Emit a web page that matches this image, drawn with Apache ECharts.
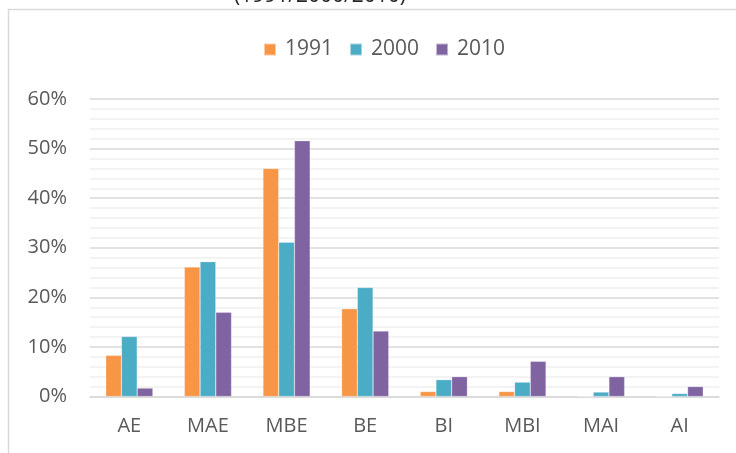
<!DOCTYPE html>
<html>
<head>
<meta charset="utf-8">
<script src="https://cdn.jsdelivr.net/npm/echarts@6/dist/echarts.min.js"></script>
<style>html,body{margin:0;padding:0;background:#fff;}#c{width:736px;height:453px;}</style>
</head>
<body>
<div id="c"></div>
<script>
const categories = ['AE', 'MAE', 'MBE', 'BE', 'BI', 'MBI', 'MAI', 'AI'];
const seriesNames = ['1991', '2000', '2010'];
const values1991 = [8.3, 26.1, 46.0, 17.7, 1.0, 1.0, 0, 0];
const values2000 = [12.1, 27.2, 31.1, 22.0, 3.4, 2.9, 0.9, 0.6];
const values2010 = [1.7, 17.0, 51.6, 13.2, 4.0, 7.1, 4.0, 2.0];
const yTicks = [0, 10, 20, 30, 40, 50, 60];
const colors = ['#F79646', '#4BACC6', '#8064A2'];

const font = 'Open Sans';
const chart = echarts.init(document.getElementById('c'));
const allValues = [values1991, values2000, values2010];
chart.setOption({
  animation: false,
  color: colors,
  graphic: [
    { type: 'rect', shape: { x: 8.5, y: 9.5, width: 900, height: 600 },
      style: { fill: 'none', stroke: '#d9d9d9', lineWidth: 1.5 }, silent: true },
    { type: 'text', x: 320, y: 7,
      style: { text: '(1991/2000/2010)', fill: '#262626', font: '21px "Open Sans"',
               textAlign: 'center', textVerticalAlign: 'bottom' }, silent: true }
  ],
  legend: {
    data: seriesNames,
    top: 34,
    left: 258,
    itemWidth: 12,
    itemHeight: 12,
    itemGap: 16,
    icon: 'rect',
    textStyle: { fontFamily: font, fontSize: 21, color: '#595959', padding: [0, 0, 0, 4] }
  },
  grid: { left: 90, right: 17, top: 99, bottom: 56.5 },
  xAxis: {
    type: 'category',
    data: categories,
    axisLine: { lineStyle: { color: '#d9d9d9', width: 1.5 } },
    axisTick: { show: false },
    axisLabel: { fontFamily: font, fontSize: 20, color: '#595959', margin: 20 }
  },
  yAxis: {
    type: 'value',
    min: yTicks[0],
    max: yTicks[yTicks.length - 1],
    interval: 10,
    axisLine: { show: false },
    axisTick: { show: false },
    axisLabel: { fontFamily: font, fontSize: 20, color: '#595959', margin: 23,
                 formatter: v => v + '%' },
    splitLine: { lineStyle: { color: '#d9d9d9', width: 1.5 } },
    minorTick: { show: false, splitNumber: 5 },
    minorSplitLine: { show: true, lineStyle: { color: '#f0f0f0', width: 1.5 } }
  },
  series: seriesNames.map((n, i) => ({
    name: n,
    type: 'bar',
    data: allValues[i],
    barGap: '0%',
    barCategoryGap: '40%',
    itemStyle: { borderColor: 'rgba(255,255,255,0.5)', borderWidth: 0.5 }
  }))
});
</script>
</body>
</html>
